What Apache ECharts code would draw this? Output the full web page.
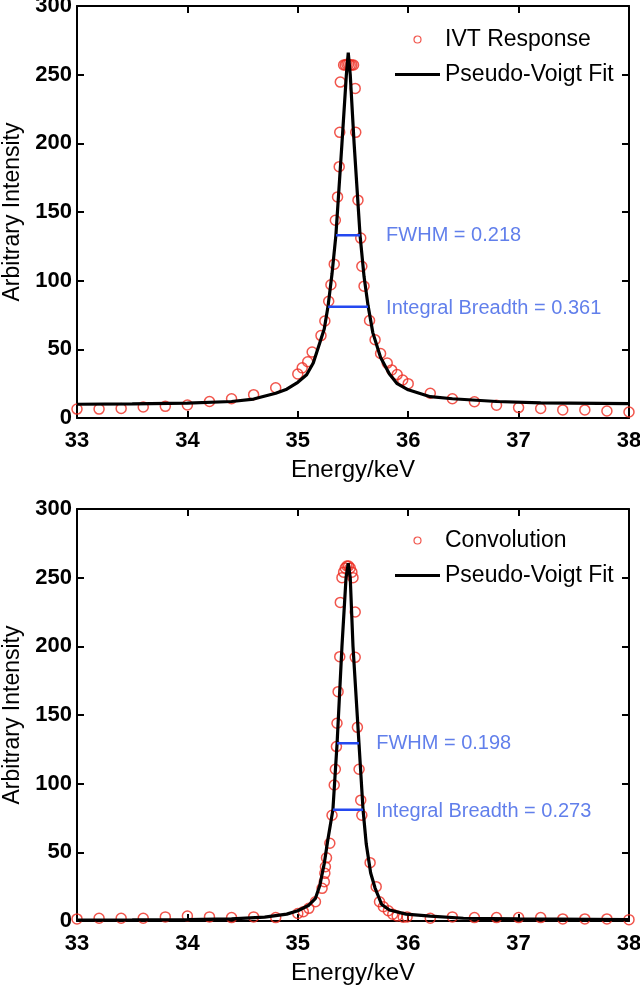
<!DOCTYPE html>
<html>
<head>
<meta charset="utf-8">
<script src="https://cdn.jsdelivr.net/npm/echarts@6/dist/echarts.min.js"></script>
<style>html,body{margin:0;padding:0;background:#fff;}#c{width:640px;height:998px;}</style>
</head>
<body>
<div id="c"></div>
<script>
// ---- data ----
var xTicks = [33, 34, 35, 36, 37, 38];
var yTicks = [0, 50, 100, 150, 200, 250, 300];

var ivtResponse = [[33.0,6.5],[33.2,6.5],[33.4,7],[33.6,8],[33.8,8.5],[34.0,9.5],[34.2,12],[34.4,14],[34.6,17],[34.8,22],
  [35.0,32],[35.04,36.5],[35.09,41],[35.13,48],[35.21,60],[35.245,70.6],[35.28,85],[35.30,97],[35.33,112],[35.34,144],
  [35.36,161],[35.375,183],[35.38,208],[35.385,244.6],[35.415,257],[35.43,257],[35.445,257.5],[35.46,257.5],[35.475,257],
  [35.49,257],[35.505,257],[35.52,240],[35.525,208],[35.545,158.6],[35.57,131],[35.58,110.5],[35.60,96],[35.65,71],
  [35.70,57],[35.75,47],[35.81,40],[35.85,35],[35.90,31.6],[35.95,27.7],[36.0,25],[36.2,18],[36.4,14],[36.6,11.8],
  [36.8,9.3],[37.0,7.6],[37.2,6.9],[37.4,5.9],[37.6,5.9],[37.8,5.1],[38.0,4.4]];

var ivtFit = [[33.0,10],[33.5,10.3],[34.0,10.8],[34.4,12],[34.6,13.8],[34.8,18],[34.9,21],[35.0,26],[35.08,31.5],
  [35.14,40],[35.2,55],[35.24,65],[35.275,82],[35.31,105],[35.345,133],[35.40,200],[35.44,250],[35.457,266],
  [35.475,250],[35.51,200],[35.564,133],[35.6,103],[35.636,82],[35.68,62],[35.75,44],[35.83,32],[35.9,25],
  [36.0,20.5],[36.2,15.5],[36.4,14],[36.8,12],[37.2,11],[38.0,10.5]];

var convolution = [[33.0,1.5],[33.2,2],[33.4,2],[33.6,2],[33.8,3],[34.0,3.6],[34.2,3],[34.4,2.5],[34.6,3],[34.8,2.5],
  [35.0,5.5],[35.05,6.8],[35.10,9.2],[35.16,14],[35.22,23.8],[35.24,28.6],[35.245,34.7],[35.25,39.5],[35.26,46],
  [35.29,56.6],[35.31,77],[35.33,99],[35.34,110.5],[35.35,127],[35.355,144],[35.365,167],[35.38,192.5],[35.385,232],
  [35.40,250],[35.415,254],[35.43,257],[35.445,258.5],[35.46,258.5],[35.475,257],[35.49,254],[35.50,250],[35.52,225],
  [35.52,192],[35.54,141],[35.555,110.5],[35.57,88],[35.58,77],[35.655,42.5],[35.71,25],[35.74,14],[35.775,10.4],
  [35.82,7.5],[35.86,5],[35.90,3.6],[35.955,2.7],[35.99,3],[36.2,2],[36.4,3],[36.6,2.5],[36.8,2.5],[37.0,2.5],
  [37.2,2.5],[37.4,1.5],[37.6,1.5],[37.8,1.5],[38.0,1]];

var convFit = [[33.0,0.7],[33.5,0.8],[34.0,1],[34.4,1.5],[34.7,2.8],[34.9,5],[35.0,7.5],[35.1,11.5],[35.16,16.5],
  [35.2,26],[35.24,42],[35.27,58],[35.318,81],[35.356,129.5],[35.40,200],[35.437,250],[35.457,260.5],[35.475,250],
  [35.50,200],[35.554,129.5],[35.591,81],[35.62,56],[35.66,35],[35.7,24],[35.76,12],[35.83,8],[35.98,5],
  [36.2,3.6],[36.5,2],[37.0,1.5],[38.0,1]];

// annotation segments: [xStart, xEnd, y]
var topFwhm = [35.346, 35.564, 133];
var topIB = [35.275, 35.636, 81];
var botFwhm = [35.356, 35.554, 129.5];
var botIB = [35.318, 35.591, 81];
// annotation labels: [x, y, text]
var topLabels = [[35.80, 133, 'FWHM = 0.218'], [35.80, 80, 'Integral Breadth = 0.361']];
var botLabels = [[35.71, 129.5, 'FWHM = 0.198'], [35.71, 80, 'Integral Breadth = 0.273']];

// ---- styles ----
var FONT = '"Liberation Sans", Arial, sans-serif';
var RED = '#ee2b1f';
var BLUE = '#2448f0';
var TEXTBLUE = '#3a5fe6';

function seg(s) { return [[s[0], s[2]], [s[1], s[2]]]; }

var lineStyleAxis = { color: '#000', width: 2 };
function xAxes(gi) {
  return [{
    gridIndex: gi, type: 'value', min: xTicks[0], max: xTicks[xTicks.length - 1], interval: 1,
    axisLine: { show: true, onZero: false, lineStyle: lineStyleAxis },
    axisTick: { show: true, inside: true, length: 7, lineStyle: lineStyleAxis },
    axisLabel: { fontFamily: FONT, fontSize: 22, fontWeight: 'bold', color: '#000', margin: 12 },
    splitLine: { show: false },
    name: 'Energy/keV', nameLocation: 'middle', nameGap: 40,
    nameTextStyle: { fontFamily: FONT, fontSize: 24, color: '#000' }
  }, {
    gridIndex: gi, type: 'value', position: 'top', min: xTicks[0], max: xTicks[xTicks.length - 1], interval: 1,
    axisLine: { show: true, onZero: false, lineStyle: lineStyleAxis },
    axisTick: { show: true, inside: true, length: 7, lineStyle: lineStyleAxis },
    axisLabel: { show: false }, splitLine: { show: false }
  }];
}
function yAxes(gi) {
  return [{
    gridIndex: gi, type: 'value', min: yTicks[0], max: yTicks[yTicks.length - 1], interval: 50,
    axisLine: { show: true, onZero: false, lineStyle: lineStyleAxis },
    axisTick: { show: true, inside: true, length: 7, lineStyle: lineStyleAxis },
    axisLabel: { fontFamily: FONT, fontSize: 22, fontWeight: 'bold', color: '#000', margin: 5 },
    splitLine: { show: false },
    name: 'Arbitrary Intensity', nameLocation: 'middle', nameGap: 51,
    nameTextStyle: { fontFamily: FONT, fontSize: 23, color: '#000' }
  }, {
    gridIndex: gi, type: 'value', position: 'right', min: yTicks[0], max: yTicks[yTicks.length - 1], interval: 50,
    axisLine: { show: true, onZero: false, lineStyle: lineStyleAxis },
    axisTick: { show: true, inside: true, length: 7, lineStyle: lineStyleAxis },
    axisLabel: { show: false }, splitLine: { show: false }
  }];
}

function scatterSeries(name, data, xi, yi) {
  return { name: name, type: 'scatter', xAxisIndex: xi, yAxisIndex: yi, data: data, symbol: 'circle', symbolSize: 10,
    itemStyle: { color: 'rgba(0,0,0,0)', borderColor: RED, borderWidth: 1.5 }, z: 3, silent: true };
}
function fitSeries(name, data, xi, yi) {
  return { name: name, type: 'line', xAxisIndex: xi, yAxisIndex: yi, data: data, showSymbol: false, symbol: 'none',
    lineStyle: { color: '#000', width: 3.2 }, itemStyle: { color: '#000' }, z: 4, silent: true };
}
function barSeries(s, xi, yi) {
  return { type: 'line', xAxisIndex: xi, yAxisIndex: yi, data: seg(s), showSymbol: false, symbol: 'none',
    lineStyle: { color: BLUE, width: 2.5 }, z: 5, silent: true };
}
function labelSeries(data, xi, yi) {
  return { type: 'scatter', xAxisIndex: xi, yAxisIndex: yi, data: data, symbolSize: 0, silent: true, z: 6,
    label: { show: true, position: 'right', distance: 0, formatter: function (p) { return p.data[2]; },
      fontFamily: FONT, fontSize: 20, color: TEXTBLUE } };
}

var circleIcon = { icon: 'circle', itemStyle: { color: 'rgba(0,0,0,0)', borderColor: RED, borderWidth: 1.2 } };
var lineIcon = { name: 'Pseudo-Voigt Fit', icon: 'path://M0,0H45V3H0Z', itemStyle: { color: '#000', borderWidth: 0 } };
function legendOf(first, top) {
  return { data: [Object.assign({ name: first }, circleIcon), lineIcon], orient: 'vertical', left: 395, top: top,
    padding: 0, itemWidth: 45, itemHeight: 7, itemGap: 12, selectedMode: false,
    textStyle: { fontFamily: FONT, fontSize: 23, color: '#000' } };
}

var chart = echarts.init(document.getElementById('c'), null, { renderer: 'canvas' });
chart.setOption({
  animation: false,
  backgroundColor: '#fff',
  grid: [
    { left: 77, top: 6, width: 552, height: 412, outerBoundsMode: 'none', containLabel: false },
    { left: 77, top: 509, width: 552, height: 412, outerBoundsMode: 'none', containLabel: false }
  ],
  legend: [legendOf('IVT Response', 28), legendOf('Convolution', 529)],
  xAxis: xAxes(0).concat(xAxes(1)),
  yAxis: yAxes(0).concat(yAxes(1)),
  series: [
    scatterSeries('IVT Response', ivtResponse, 0, 0),
    fitSeries('Pseudo-Voigt Fit', ivtFit, 0, 0),
    barSeries(topFwhm, 0, 0),
    barSeries(topIB, 0, 0),
    labelSeries(topLabels, 0, 0),
    scatterSeries('Convolution', convolution, 2, 2),
    fitSeries('Pseudo-Voigt Fit', convFit, 2, 2),
    barSeries(botFwhm, 2, 2),
    barSeries(botIB, 2, 2),
    labelSeries(botLabels, 2, 2)
  ]
});
</script>
</body>
</html>
